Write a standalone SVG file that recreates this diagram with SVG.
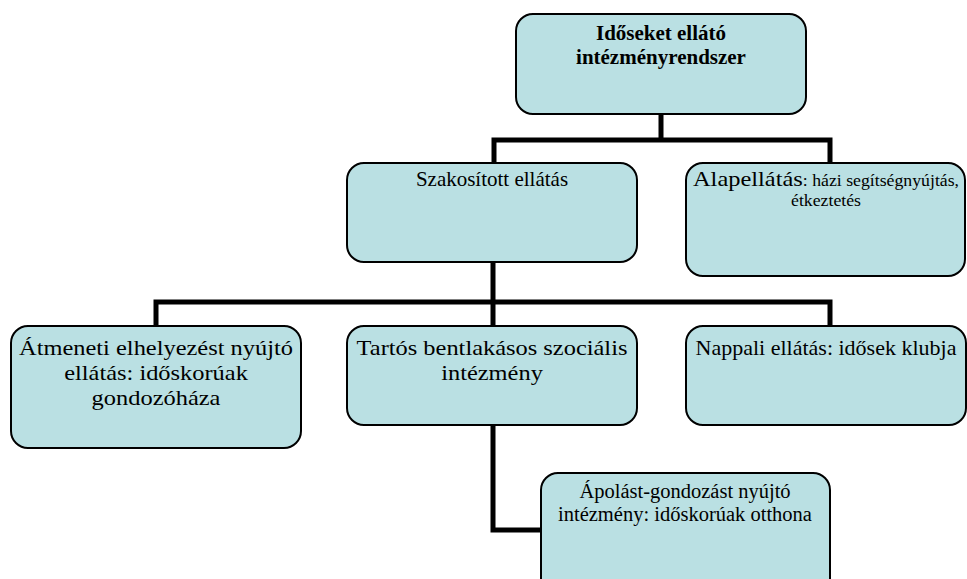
<svg xmlns="http://www.w3.org/2000/svg" width="967" height="579" viewBox="0 0 967 579">
<style>
.box{fill:#bae0e3;stroke:#000;stroke-width:2}
.t{font-family:'Liberation Serif','Times New Roman',serif;font-size:22px;fill:#000;text-anchor:middle}
.b{font-weight:bold;font-size:21px}
.m{font-size:21px}
.p{font-size:20.5px}
.s{font-size:16px}
.c{fill:none;stroke:#000;stroke-width:5;stroke-linejoin:miter;stroke-linecap:square}
</style>
<rect width="967" height="579" fill="#fff"/>
<g id="connectors">
<path class="c" d="M661 114V140M494 163V140H830V163"/>
<path class="c" d="M493 262V326M156 326V302H830V326"/>
<path class="c" d="M493 425V530H541"/>
</g>
<g id="root">
<rect class="box" x="516" y="14" width="290" height="100" rx="17"/>
<text class="t b" x="661" y="40">Időseket ellátó</text>
<text class="t b" x="661" y="64">intézményrendszer</text>
</g>
<g id="szakositott">
<rect class="box" x="347" y="163" width="290" height="99" rx="17"/>
<text class="t m" x="492" y="186">Szakosított ellátás</text>
</g>
<g id="alapellatas">
<rect class="box" x="686" y="163" width="279" height="113" rx="17"/>
<g transform="translate(826 0) scale(1.11 1)">
<text class="t" x="0" y="186">Alapellátás<tspan class="s">: házi segítségnyújtás,</tspan></text>
<text class="t s" x="0" y="206">étkeztetés</text>
</g>
</g>
<g id="atmeneti">
<rect class="box" x="11" y="326" width="290" height="122" rx="17"/>
<g transform="translate(156 0) scale(1.11 1)">
<text class="t" x="0" y="355">Átmeneti elhelyezést nyújtó</text>
<text class="t" x="0" y="380">ellátás: időskorúak</text>
<text class="t" x="0" y="405">gondozóháza</text>
</g>
</g>
<g id="tartos">
<rect class="box" x="347" y="326" width="290" height="99" rx="17"/>
<g transform="translate(492 0) scale(1.11 1)">
<text class="t" x="0" y="355">Tartós bentlakásos szociális</text>
<text class="t" x="0" y="380">intézmény</text>
</g>
</g>
<g id="nappali">
<rect class="box" x="686" y="326" width="280" height="99" rx="17"/>
<text class="t" x="826" y="355">Nappali ellátás: idősek klubja</text>
</g>
<g id="apolas">
<rect class="box" x="541" y="473" width="289" height="130" rx="17"/>
<text class="t p" x="685" y="498">Ápolást-gondozást nyújtó</text>
<text class="t p" x="685" y="521">intézmény: időskorúak otthona</text>
</g>
</svg>
